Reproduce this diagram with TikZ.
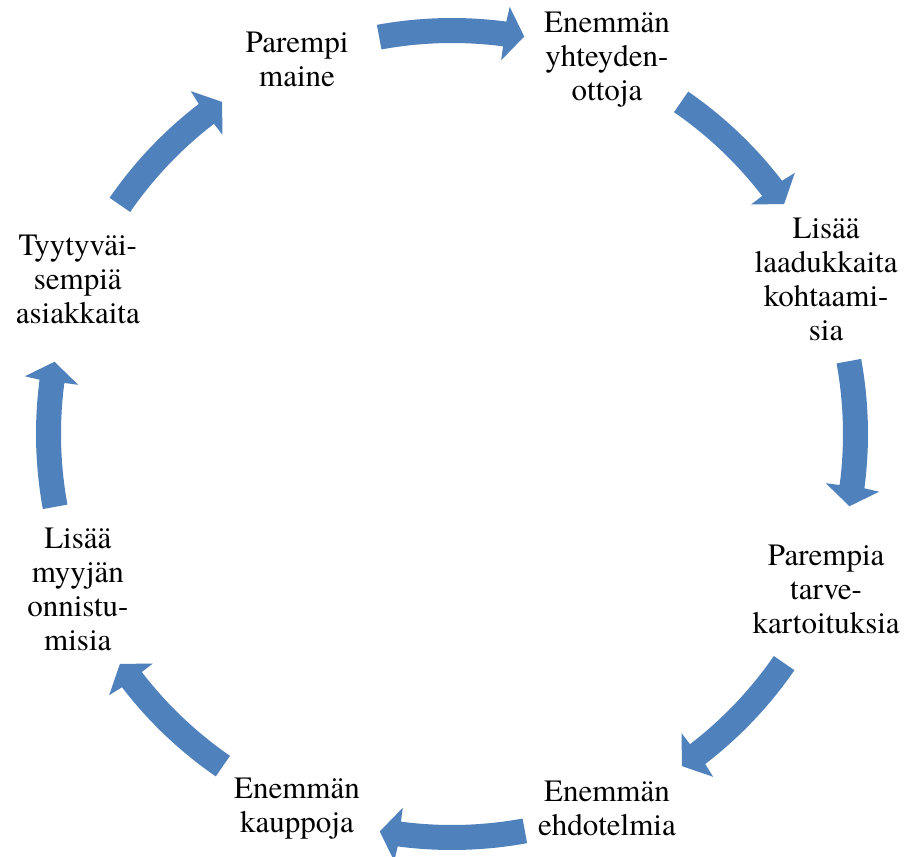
\documentclass[tikz,border=0pt]{standalone}
\usepackage{fontspec}
\setmainfont{texgyretermes}[Extension=.otf, UprightFont=*-regular, BoldFont=*-bold, ItalicFont=*-italic, BoldItalicFont=*-bolditalic]
\definecolor{cycleblue}{RGB}{79,129,189}
\tikzset{
  stagetext/.style={align=center, inner sep=0pt, font=\fontsize{31}{34}\selectfont},
  cyclearrow/.style={fill=cycleblue, draw=none}
}
% one curved block arrow, centred on angle #1, running clockwise
\newcommand{\cyclearrowat}[1]{%
  \begin{scope}[rotate=#1-90]
    \fill[cyclearrow] (100.4:416pt) arc[start angle=100.4, end angle=82.5, radius=416pt]
      -- (82.3:431pt) -- (79.7:404pt) -- (82.5:377pt) -- (82.5:391pt)
      arc[start angle=82.5, end angle=100.4, radius=391pt] -- cycle;
  \end{scope}}
\begin{document}
\begin{tikzpicture}[x=1pt,y=1pt]
  \useasboundingbox (-452,-423) rectangle (459,434);
  % stages of the cycle
  \node[stagetext] (s1) at (112.5:405) {Parempi\\maine};
  \node[stagetext] (s2) at (67.5:405) {Enemmän\\yhteyden-\\ottoja};
  \node[stagetext] (s3) at (22.5:405) {Lisää\\laadukkaita\\kohtaami-\\sia};
  \node[stagetext] (s4) at (-22.5:405) {Parempia\\tarve-\\kartoituksia};
  \node[stagetext] (s5) at (-67.5:405) {Enemmän\\ehdotelmia};
  \node[stagetext] (s6) at (-112.5:405) {Enemmän\\kauppoja};
  \node[stagetext] (s7) at (-157.5:405) {Lisää\\myyjän\\onnistu-\\misia};
  \node[stagetext] (s8) at (157.5:405) {Tyytyväi-\\sempiä\\asiakkaita};
  % arrows between the stages
  \foreach \a in {90,45,0,-45,-90,-135,180,135} {\cyclearrowat{\a}}
\end{tikzpicture}
\end{document}
